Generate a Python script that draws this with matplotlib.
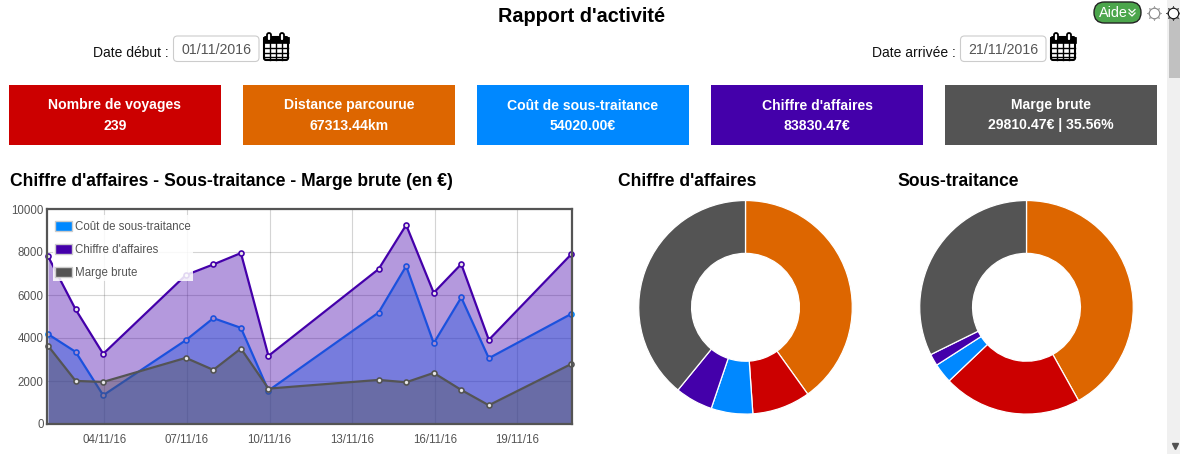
import matplotlib
matplotlib.use("Agg")
from matplotlib import pyplot as plt
from matplotlib.patches import Rectangle, FancyBboxPatch, Patch

plt.rcParams['font.family'] = ['Liberation Sans', 'DejaVu Sans']

W, H = 1180, 471

# Data
# ------------------------------
days = [2, 3, 4, 7, 8, 9, 10, 14, 15, 16, 17, 18, 21]
cout = [4177, 3354, 1335, 3898, 4922, 4472, 1553, 5186, 7345, 3758, 5885, 3059, 5124]
chiffre = [7795, 5326, 3261, 6925, 7422, 7950, 3168, 7205, 9255, 6102, 7438, 3913, 7904]
marge = [3634, 2003, 1957, 3075, 2516, 3509, 1646, 2050, 1941, 2376, 1584, 870, 2795]

tick_days = [4, 7, 10, 13, 16, 19]
tick_labels = ["04/11/16", "07/11/16", "10/11/16", "13/11/16", "16/11/16", "19/11/16"]
y_ticks = [0, 2000, 4000, 6000, 8000, 10000]

pie_chiffre = [40.1, 8.8, 6.3, 5.7, 39.1]
pie_sous = [41.9, 21.0, 3.0, 1.8, 32.3]

kpi_titles = ["Nombre de voyages", "Distance parcourue", "Coût de sous-traitance",
              "Chiffre d'affaires", "Marge brute"]
kpi_values = ["239", "67313.44km", "54020.00€", "83830.47€", "29810.47€ | 35.56%"]

RED = "#CC0000"
ORANGE = "#DD6600"
BLUE = "#0088FF"
PURPLE = "#4400AA"
GREY = "#545454"
kpi_colors = [RED, ORANGE, BLUE, PURPLE, GREY]
pie_colors = [ORANGE, RED, BLUE, PURPLE, GREY]


def axes_px(fig, left, top, right, bottom, **kw):
    """Create axes from pixel coordinates measured from the top left."""
    return fig.add_axes([left / W, 1 - bottom / H, (right - left) / W, (bottom - top) / H], **kw)


def draw_calendar(ax, x, y):
    """Draw the small calendar icon, x and y being its top left corner."""
    ax.add_patch(FancyBboxPatch((x + 1, y + 4), 24, 23, boxstyle="round,pad=0,rounding_size=2",
                                fc="white", ec="black", lw=1.5))
    ax.add_patch(Rectangle((x, y + 4), 26, 6, fc="black", ec="black", lw=0.5))
    for dx in (6, 19):
        ax.add_patch(FancyBboxPatch((x + dx - 2, y), 4, 8, boxstyle="round,pad=0,rounding_size=2",
                                    fc="white", ec="black", lw=1.3))
    for dx in (6.5, 12.5, 18.5):
        ax.plot([x + dx, x + dx], [y + 10, y + 27], color="black", lw=1)
    for dy in (15, 19.5, 24):
        ax.plot([x + 1, x + 25], [y + dy, y + dy], color="black", lw=1)


def draw_gear(ax, x, y, color):
    ax.plot([x], [y], marker=(8, 1, 0), ms=10.5, mfc="none", mec=color, mew=0.4)
    ax.plot([x], [y], marker="o", ms=7.5, mfc="white", mec=color, mew=0.8)


def draw_date(ax, label, value, label_right, box_left, box_right, cal_x):
    ax.text(label_right, 53, label, ha="right", va="center", fontsize=10, color="#111111")
    ax.add_patch(FancyBboxPatch((box_left, 36), box_right - box_left, 25.5,
                                boxstyle="round,pad=0,rounding_size=4",
                                fc="white", ec="#cccccc", lw=0.8))
    ax.text((box_left + box_right) / 2, 49.5, value, ha="center", va="center",
            fontsize=10.2, color="#555555")
    draw_calendar(ax, cal_x, 33)


def draw_page(fig):
    """Page furniture around the charts, in pixel coordinates."""
    ax = fig.add_axes([0, 0, 1, 1], zorder=0)
    ax.set_xlim(0, W)
    ax.set_ylim(H, 0)
    ax.axis("off")

    ax.text(582, 16.5, "Rapport d'activité", ha="center", va="center",
            fontsize=14.3, fontweight="bold", color="black")

    draw_date(ax, "Date début :", "01/11/2016", 169, 173.5, 259, 263)
    draw_date(ax, "Date arrivée :", "21/11/2016", 956, 960.5, 1046, 1050)

    # indicator boxes
    lefts = [9, 243, 477, 711, 945]
    for left, color, title, value in zip(lefts, kpi_colors, kpi_titles, kpi_values):
        ax.add_patch(Rectangle((left, 85), 211.5, 60, fc=color, ec="none"))
        ax.text(left + 106, 105.5, title, ha="center", va="center", color="white",
                fontsize=10.1, fontweight="bold")
        ax.text(left + 106, 125.5, value, ha="center", va="center", color="white",
                fontsize=10.1, fontweight="bold")

    # section titles
    ax.text(9.5, 181, "Chiffre d'affaires - Sous-traitance - Marge brute (en €)",
            ha="left", va="center", fontsize=12.65, fontweight="bold", color="black")
    ax.text(617.5, 181, "Chiffre d'affaires", ha="left", va="center",
            fontsize=12.65, fontweight="bold", color="black")
    ax.text(897.5, 181, "Sous-traitance", ha="left", va="center",
            fontsize=12.65, fontweight="bold", color="black")

    # scrollbar
    ax.add_patch(Rectangle((1167, 0), 13, 454, fc="#f0f0f0", ec="none"))
    ax.add_patch(Rectangle((1169, 18), 11, 60, fc="#c1c1c1", ec="none"))
    ax.plot([1174.5], [445.5], marker="v", ms=4, color="#505050")

    # help button and gears
    ax.add_patch(FancyBboxPatch((1094, 2), 47, 21, boxstyle="round,pad=0,rounding_size=10.5",
                                fc="#4CA64C", ec="#222222", lw=1))
    ax.text(1099, 13, "Aide", ha="left", va="center", color="white", fontsize=10.4)
    for dy in (9.5, 13):
        ax.plot([1129, 1132, 1135], [dy, dy + 3, dy], color="white", lw=0.9)
    draw_gear(ax, 1154, 13, "#888888")
    draw_gear(ax, 1173, 13, "#111111")


def draw_series(ax, values, color, z):
    ax.fill_between(days, values, 0, color=color, alpha=0.4, lw=0, zorder=z)
    ax.plot(days, values, color=color, lw=1.6, zorder=z + 0.1,
            marker="o", ms=3.6, mfc="#e8e8e8", mec=color, mew=1.2, clip_on=False)


def draw_area_chart(fig):
    ax = axes_px(fig, 47, 209, 572, 424, zorder=1)
    ax.set_xlim(1.96, 21.02)
    ax.set_ylim(0, 10000)

    draw_series(ax, cout, BLUE, 3)
    draw_series(ax, chiffre, PURPLE, 4)
    draw_series(ax, marge, GREY, 5)

    # ticks sit a hair to the right of the points in the original
    ax.set_xticks([d + 0.04 for d in tick_days])
    ax.set_xticklabels(tick_labels)
    ax.set_yticks(y_ticks)
    ax.grid(True, color="#545454", alpha=0.25, lw=0.8)
    ax.set_axisbelow(True)
    ax.tick_params(length=0, labelsize=8.3, labelcolor=GREY)
    ax.tick_params(axis="y", pad=2.5)
    ax.tick_params(axis="x", pad=7.5)
    for spine in ax.spines.values():
        spine.set_color(GREY)
        spine.set_linewidth(1.6)
        spine.set_zorder(8)

    # translucent panel behind the legend, drawn apart for its uneven padding
    ax.add_patch(Rectangle((6 / 525, 1 - 72 / 215), 140 / 525, 66 / 215, transform=ax.transAxes,
                           fc="white", alpha=0.85, ec="none", zorder=9))
    handles = [Patch(fc=BLUE, ec="#cccccc", lw=1), Patch(fc=PURPLE, ec="#cccccc", lw=1),
               Patch(fc=GREY, ec="#cccccc", lw=1)]
    leg = ax.legend(handles, ["Coût de sous-traitance", "Chiffre d'affaires", "Marge brute"],
                    loc="upper left", bbox_to_anchor=(8 / 525, 1 - 12 / 215), borderaxespad=0,
                    fontsize=8.3, labelcolor=GREY, frameon=False, handlelength=1.45,
                    handleheight=1.0, handletextpad=0.32, labelspacing=0.95, borderpad=0)
    leg.set_zorder(10)


def draw_donut(fig, cx, cy, values):
    r = 107
    ax = axes_px(fig, cx - r, cy - r, cx + r, cy + r, zorder=1)
    ax.pie(values, colors=pie_colors, startangle=90, counterclock=False, radius=1,
           wedgeprops={"width": 0.495, "edgecolor": "white", "linewidth": 0.9})
    ax.set_xlim(-1.002, 1.002)
    ax.set_ylim(-1.002, 1.002)


fig = plt.figure(figsize=(W / 100, H / 100), dpi=100)
draw_page(fig)
draw_area_chart(fig)
draw_donut(fig, 745.5, 307.3, pie_chiffre)
draw_donut(fig, 1026.5, 307.3, pie_sous)
fig.savefig("out.png", dpi=100)
